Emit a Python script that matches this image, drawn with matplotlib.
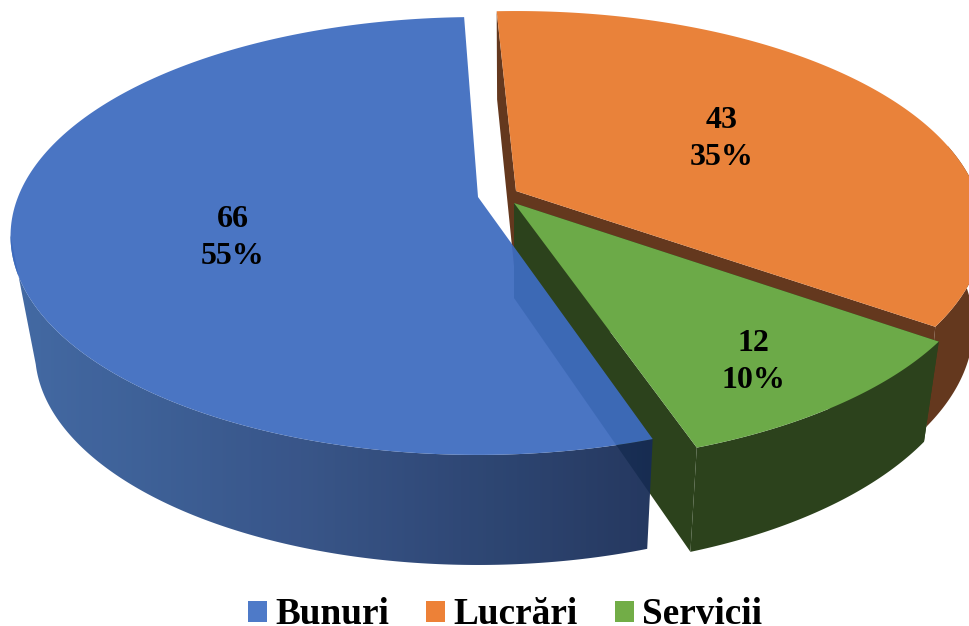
import matplotlib
matplotlib.use("Agg")
import matplotlib.pyplot as plt
import numpy as np
from matplotlib.colors import LinearSegmentedColormap
from matplotlib.patches import Patch, Polygon

categories = ["Bunuri", "Lucrări", "Servicii"]
values = [66, 43, 12]
percent_labels = ["55%", "35%", "10%"]

# look of the tilted disc, in pixels of the 970x626 picture
RX, RY, PERSP = 460, 212, 0.178
DEPTH = 95
START_ANGLE = -71.6
apex = [(478, 197), (516, 191), (514, 203)]
slice_scale = [1.0, 1.0, 1.015]
slice_turn = [0, 0.8, 0.6]
# the lower rim is not the same ellipse as the upper one
bottom_rx = [425, 450, 444]
bottom_ry = [196, 220, 220]
bottom_persp = [0.282, 0.178, 0.178]
bottom_turn = [-1.5, 0, 0]
label_pos = [(233, 238), (722, 139), (753, 362)]

top_colors = ["#3e6cc0", "#e9823a", "#6caa48"]
legend_colors = ["#4e7ac8", "#ed8137", "#72ad47"]
brown = "#64381e"
dark_green = "#2c421c"
blue_alpha = 0.94

edges = START_ANGLE - np.cumsum([0] + values) / sum(values) * 360


def rim(i, theta, bottom=False):
    theta = np.asarray(theta) + slice_turn[i]
    if bottom:
        t = np.radians(theta + bottom_turn[i])
        w = 1 + bottom_persp[i] * np.sin(t)
        x = bottom_rx[i] * np.cos(t) / w * slice_scale[i]
        y = bottom_ry[i] * np.sin(t) / w * slice_scale[i]
        return np.column_stack([apex[i][0] + x, apex[i][1] + DEPTH - y])
    t = np.radians(theta)
    w = 1 + PERSP * np.sin(t)
    x = RX * np.cos(t) / w * slice_scale[i]
    y = RY * np.sin(t) / w * slice_scale[i]
    return np.column_stack([apex[i][0] + x, apex[i][1] - y])


def arc(a, b):
    return np.linspace(a, b, 200)


def top_face(i):
    return np.vstack([[apex[i]], rim(i, arc(edges[i], edges[i + 1]))])


def outer_wall(i, a, b, b_low=None):
    b_low = b if b_low is None else b_low
    return np.vstack([rim(i, arc(a, b)), rim(i, arc(b_low, a), bottom=True)])


def cut_face(i, theta):
    ax0, ay0 = apex[i]
    return np.vstack([[(ax0, ay0)], rim(i, [theta]), rim(i, [theta], bottom=True), [(ax0, ay0 + DEPTH)]])


fig = plt.figure(figsize=(9.7, 6.26), dpi=100)
ax = fig.add_axes([0, 0, 1, 1])

# orange slice
ax.add_patch(Polygon(cut_face(1, edges[1]), color=brown, lw=0))
ax.add_patch(Polygon(cut_face(1, edges[2]), color=brown, lw=0))
ax.add_patch(Polygon(outer_wall(1, edges[2] + 360, 12), color=brown, lw=0))
ax.add_patch(Polygon(top_face(1), color=top_colors[1], lw=0))

# green slice
ax.add_patch(Polygon(cut_face(2, edges[2]), color=dark_green, lw=0))
ax.add_patch(Polygon(cut_face(2, edges[3]), color=dark_green, lw=0))
ax.add_patch(Polygon(outer_wall(2, edges[2], edges[3]), color=dark_green, lw=0))
ax.add_patch(Polygon(top_face(2), color=top_colors[2], lw=0))

# blue slice, slightly see-through like the original
wall_cmap = LinearSegmentedColormap.from_list(
    "wall", [(0, "#37619f"), (0.46, "#2b4a81"), (1, "#162b55")]
)
gradient = np.linspace(0, 1, 256).reshape(1, -1)
img = ax.imshow(gradient, cmap=wall_cmap, extent=(0, 655, 626, 0), aspect="auto", alpha=blue_alpha, zorder=3)
wall = Polygon(outer_wall(0, edges[0], -170, -159), transform=ax.transData, fc="none", lw=0)
ax.add_patch(wall)
img.set_clip_path(wall)
ax.add_patch(Polygon(top_face(0), color=top_colors[0], lw=0, alpha=blue_alpha, zorder=4))

for (x, y), v, p in zip(label_pos, values, percent_labels):
    ax.text(x, y, f"{v}\n{p}", ha="center", va="center", fontsize=23, fontweight="bold",
            family="Liberation Serif", linespacing=1.32, zorder=5)

handles = [Patch(color=c, lw=0) for c in legend_colors]
ax.legend(handles, categories, ncol=3, loc="lower center", bbox_to_anchor=(505, 632.5),
          bbox_transform=ax.transData, frameon=False, borderpad=0, borderaxespad=0,
          handlelength=0.51, handleheight=0.5, handletextpad=0.22, columnspacing=1.0,
          prop={"family": "Liberation Serif", "weight": "bold", "size": 26.8})

ax.set_xlim(0, 970)
ax.set_ylim(626, 0)
ax.axis("off")

fig.savefig("out.png", dpi=100)
